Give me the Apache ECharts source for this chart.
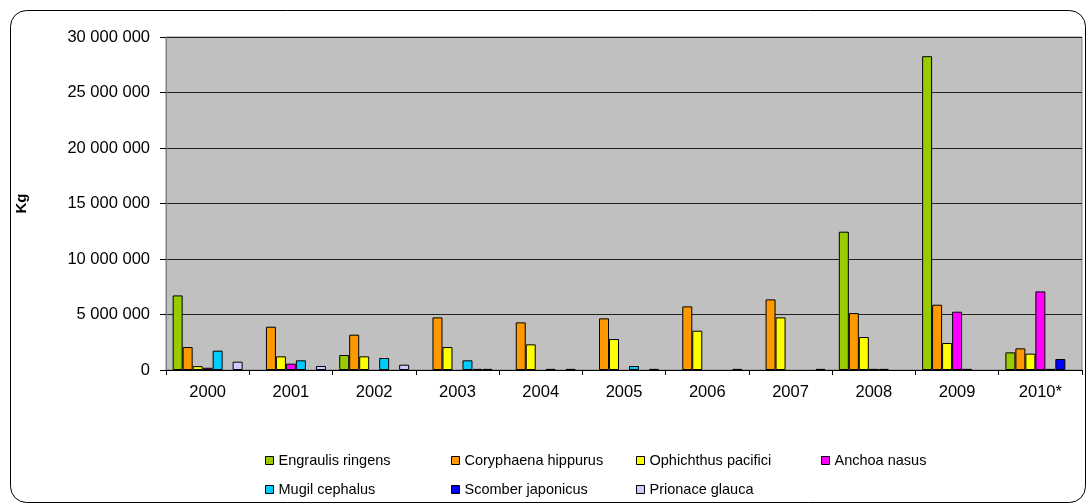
<!DOCTYPE html>
<html>
<head>
<meta charset="utf-8">
<script src="https://cdn.jsdelivr.net/npm/echarts@6/dist/echarts.min.js"></script>
<style>
  html, body { margin: 0; padding: 0; background: #ffffff; }
  #chart { width: 1087px; height: 504px; }
</style>
</head>
<body>
<div id="chart"></div>
<script>
// Landings by species and year, in kilograms
const years = ['2000', '2001', '2002', '2003', '2004', '2005', '2006', '2007', '2008', '2009', '2010*'];

const engraulisRingens   = [6720000, 0, 1350000, 0, 0, 0, 0, 0, 12460000, 28270000, 1590000];
const coryphaenaHippurus = [2070000, 3900000, 3180000, 4740000, 4290000, 4650000, 5730000, 6360000, 5130000, 5880000, 1950000];
const ophichthusPacifici = [350000, 1230000, 1230000, 2070000, 2310000, 2790000, 3540000, 4740000, 2970000, 2430000, 1470000];
const anchoaNasus        = [200000, 570000, 0, 0, 0, 0, 0, 0, 100000, 5250000, 7080000];
const mugilCephalus      = [1740000, 870000, 1080000, 870000, 100000, 360000, 0, 0, 100000, 100000, 100000];
const scomberJaponicus   = [0, 0, 0, 100000, 0, 0, 0, 0, 0, 0, 990000];
const prionaceGlauca     = [750000, 360000, 480000, 100000, 100000, 100000, 100000, 100000, 0, 0, 0];

const yTicks = [0, 5000000, 10000000, 15000000, 20000000, 25000000, 30000000];

const speciesNames = ['Engraulis ringens', 'Coryphaena hippurus', 'Ophichthus pacifici', 'Anchoa nasus',
                      'Mugil cephalus', 'Scomber japonicus', 'Prionace glauca'];
const speciesValues = [engraulisRingens, coryphaenaHippurus, ophichthusPacifici, anchoaNasus,
                       mugilCephalus, scomberJaponicus, prionaceGlauca];
const speciesColors = ['#99CC00', '#FF9900', '#FFFF00', '#FF00FF', '#00CCFF', '#0000FF', '#CCCCFF'];

const FONT = 'Liberation Sans, Arial, sans-serif';

function spaced(v) {
  return String(v).replace(/\B(?=(\d{3})+(?!\d))/g, ' ');
}

const series = speciesNames.map((name, i) => ({
  name: name,
  type: 'bar',
  barGap: '0%',
  barCategoryGap: '16%',
  itemStyle: { color: speciesColors[i], borderColor: '#000000', borderWidth: 1 },
  emphasis: { disabled: true },
  data: speciesValues[i].map(v => (v === 0 ? '-' : v))
}));

// Legend laid out as a grid of columns
const legendColumns = [
  { left: 265, names: ['Engraulis ringens', 'Mugil cephalus'] },
  { left: 451, names: ['Coryphaena hippurus', 'Scomber japonicus'] },
  { left: 636, names: ['Ophichthus pacifici', 'Prionace glauca'] },
  { left: 821, names: ['Anchoa nasus'] }
];
const legends = legendColumns.map(col => ({
  orient: 'vertical',
  left: col.left,
  top: 453,
  padding: 0,
  itemGap: 14,
  itemWidth: 8,
  itemHeight: 8,
  icon: 'rect',
  selectedMode: false,
  itemStyle: { borderColor: '#000000', borderWidth: 1 },
  textStyle: { fontFamily: FONT, fontSize: 14.5, color: '#000000', padding: [0, 0, 0, 0] },
  data: col.names
}));

const chart = echarts.init(document.getElementById('chart'), null, { renderer: 'canvas' });
chart.setOption({
  animation: false,
  backgroundColor: '#ffffff',
  graphic: [{
    type: 'rect',
    shape: { x: 10.5, y: 10.5, width: 1075, height: 492, r: 16 },
    style: { fill: 'none', stroke: '#000000', lineWidth: 1 },
    silent: true
  }],
  legend: legends,
  grid: {
    show: true,
    left: 166, right: 5, top: 37, bottom: 134,
    backgroundColor: '#C0C0C0',
    borderColor: '#808080',
    borderWidth: 1,
    containLabel: false
  },
  xAxis: {
    type: 'category',
    data: years,
    axisLine: { lineStyle: { color: '#000000', width: 1 } },
    axisTick: { show: true, length: 5, lineStyle: { color: '#000000' } },
    axisLabel: { fontFamily: FONT, fontSize: 16.5, color: '#000000', margin: 14 }
  },
  yAxis: {
    type: 'value',
    min: yTicks[0],
    max: yTicks[yTicks.length - 1],
    interval: yTicks[1] - yTicks[0],
    name: 'Kg',
    nameLocation: 'middle',
    nameRotate: 90,
    nameGap: 137,
    nameTextStyle: { fontFamily: FONT, fontSize: 15, fontWeight: 'bold', color: '#000000' },
    axisLine: { show: true, lineStyle: { color: '#808080', width: 1 } },
    axisTick: { show: true, length: 6, lineStyle: { color: '#000000' } },
    axisLabel: { fontFamily: FONT, fontSize: 16.5, color: '#000000', margin: 16, formatter: v => spaced(v) },
    splitLine: { show: true, lineStyle: { color: '#222222', width: 1 } }
  },
  series: series
});
</script>
</body>
</html>
